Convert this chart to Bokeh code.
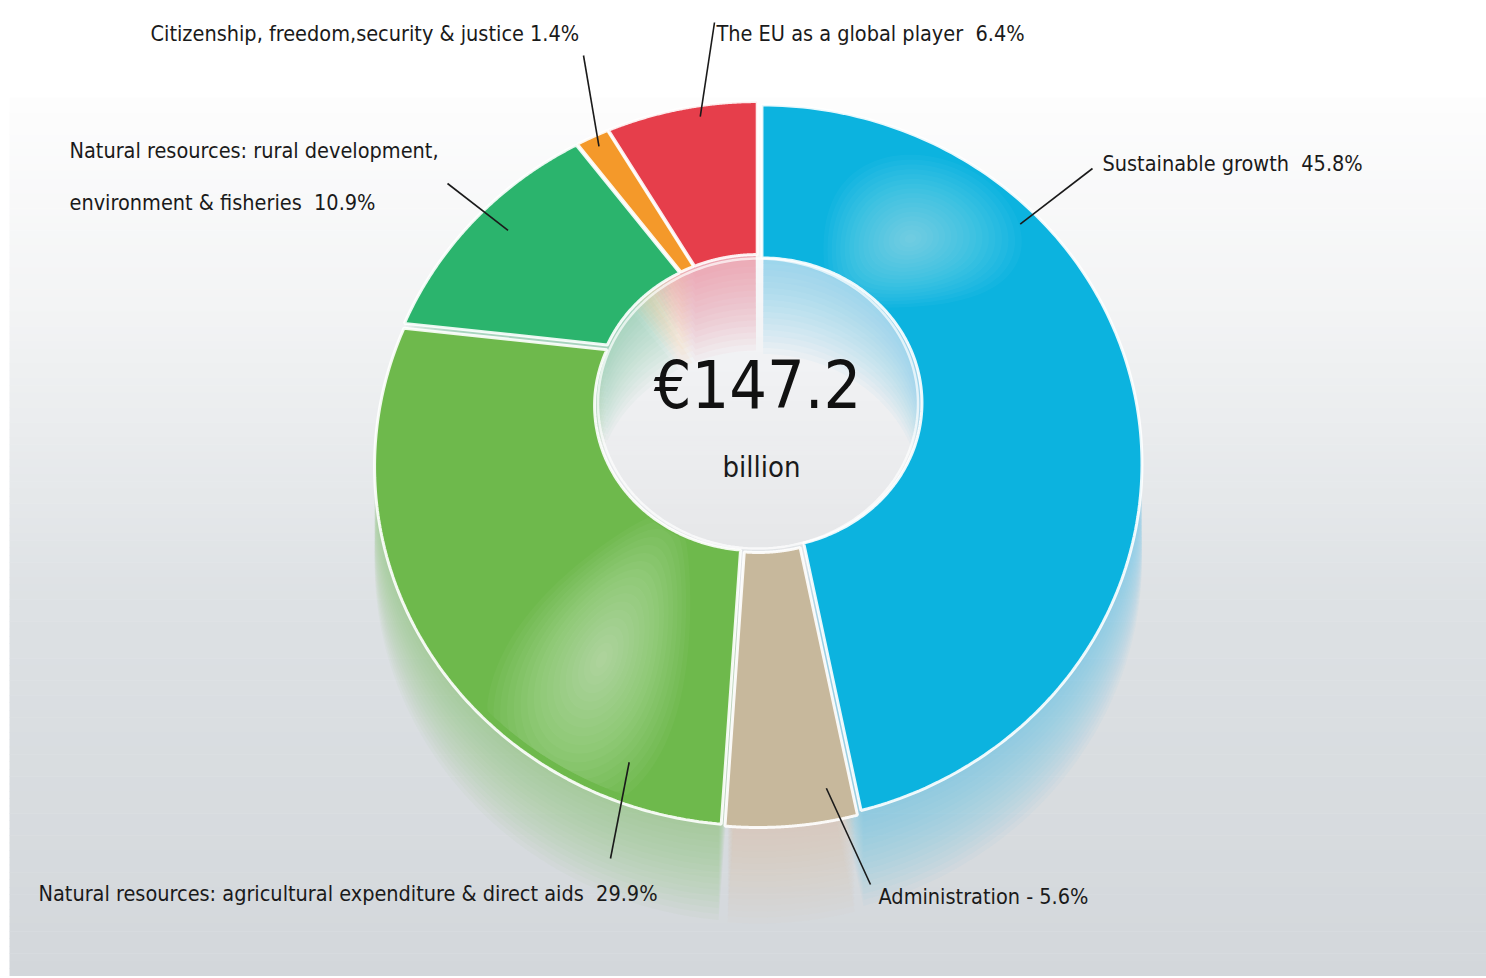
import numpy as np
from bokeh.plotting import figure
from bokeh.models import Range1d
from bokeh.core.properties import value
from bokeh.embed import file_html
from bokeh.resources import INLINE

# ---------------- data ----------------
categories = [
    "Sustainable growth",
    "Administration",
    "Natural resources: agricultural expenditure & direct aids",
    "Natural resources: rural development, environment & fisheries",
    "Citizenship, freedom, security & justice",
    "The EU as a global player",
]
shares = [45.8, 5.6, 29.9, 10.9, 1.4, 6.4]
NB = "\u00a0"
label_lines = [
    ["Sustainable growth" + NB + " 45.8%"],
    ["Administration - 5.6%"],
    ["Natural resources: agricultural expenditure & direct aids" + NB + " 29.9%"],
    ["Natural resources: rural development,", "environment & fisheries" + NB + " 10.9%"],
    ["Citizenship, freedom,security & justice 1.4%"],
    ["The EU as a global player" + NB + " 6.4%"],
]
total_text = "€147.2"
unit_text = "billion"

# ---------------- style / layout ----------------
slice_colors = ["#0cb3df", "#c7b89c", "#6eb94c", "#2bb46d", "#f4992a", "#e63e4b"]
tint_colors = ["#5cc8e8", "#cfc3ad", "#93ca7a", "#6cc896", "#f7b767", "#ee7f89"]
FONT = "DejaVu Sans Condensed, Liberation Sans, sans-serif"
LABEL_SIZE = "21.5px"
W, H = 1486, 978

# label anchor (left x, center y of first line) and leader line start
label_pos = [(1102, 163), (878, 896), (38, 893), (69, 150), (150, 33), (716, 33)]
leader_start = [(1092, 168), (870, 884), (610, 858), (447, 183), (583, 55), (714, 22)]
# where the leader hits the slice: (fraction along slice, radial fraction)
leader_hit = [(0.28, 0.9), (0.2, 0.88), (0.15, 0.85), (0.53, 0.82), (0.5, 0.93), (0.61, 0.93)]

CX = 757.5
IN_CY, IN_RX, IN_RY = 403.0, 160.0, 145.0
OUT_CY, OUT_RX, OUT_RY = 464.0, 380.0, 359.0
EXPLODE = 4.0


def ring_point(theta, t):
    th = np.radians(theta)
    rx = IN_RX + t * (OUT_RX - IN_RX)
    ry = IN_RY + t * (OUT_RY - IN_RY)
    cy = IN_CY + t * (OUT_CY - IN_CY)
    return CX + rx * np.sin(th), cy - ry * np.cos(th)


def sector(a0, a1, t0, t1, dx=0.0, dy=0.0, n=160):
    th = np.linspace(a0, a1, n)
    xo, yo = ring_point(th, t1)
    xi, yi = ring_point(th[::-1], t0)
    return list(np.concatenate([xo, xi]) + dx), list(np.concatenate([yo, yi]) + dy)


fr = np.array(shares) / np.sum(shares)
ends = np.cumsum(fr) * 360.0
starts = ends - fr * 360.0
mids = (starts + ends) / 2.0
offx = EXPLODE * np.sin(np.radians(mids))
offy = -EXPLODE * np.cos(np.radians(mids))

p = figure(width=W, height=H, output_backend="svg", toolbar_location=None,
           x_range=Range1d(0, W), y_range=Range1d(H, 0), min_border=0)
p.axis.visible = False
p.grid.visible = False
p.outline_line_color = None
p.background_fill_color = "white"
p.border_fill_color = "white"

# background gradient
stops_y = [97, 300, 600, 975]
stops_c = [(253, 253, 253), (243, 244, 245), (221, 225, 228), (211, 215, 219)]
ys = np.linspace(97, 975, 120)
cols = []
for y in ys[:-1]:
    c = [int(round(np.interp(y, stops_y, [s[k] for s in stops_c]))) for k in range(3)]
    cols.append("#%02x%02x%02x" % tuple(c))
p.quad(left=9, right=W, top=ys[:-1], bottom=ys[1:] + 0.5, fill_color=cols, line_color=None)

# hole (vertical gradient in strips)
hy = np.linspace(IN_CY - IN_RY, IN_CY + IN_RY, 60)
hl, hr, ht, hb, hc = [], [], [], [], []
for a, b in zip(hy[:-1], hy[1:]):
    m = (a + b) / 2
    w = IN_RX * np.sqrt(max(0.0, 1 - ((m - IN_CY) / IN_RY) ** 2))
    hl.append(CX - w); hr.append(CX + w); ht.append(a); hb.append(b + 0.5)
    f = (m - hy[0]) / (hy[-1] - hy[0])
    g = int(round(247 - 17 * f))
    hc.append("#%02x%02x%02x" % (g, g + 1, g + 3))
p.quad(left=hl, right=hr, top=ht, bottom=hb, fill_color=hc, line_color=None)

# reflections / inner wall tint
for i in range(len(shares)):
    for k in range(1, 17):
        xs, ys_ = sector(starts[i] + 0.4, ends[i] - 0.4, 0, 1, offx[i], offy[i] + 6 * k)
        p.patch(xs, ys_, fill_color=tint_colors[i], fill_alpha=0.05, line_color=None)

# main slices
for i in range(len(shares)):
    xs, ys_ = sector(starts[i], ends[i], 0, 1, offx[i], offy[i])
    p.patch(xs, ys_, fill_color=slice_colors[i], line_color="white", line_width=3, line_alpha=0.9)

# gloss highlights: smooth radial streaks in (angle, radius) space
gloss = [(0, 36.0, 0.42, 20.0, 0.55, 18, 0.03), (2, 213.0, 0.55, 18.0, 0.6, 18, 0.036)]
phi = np.linspace(0, 2 * np.pi, 120)
for i, cth, ct, hth, htt, nl, al in gloss:
    lo, hi = starts[i] + 1.0, ends[i] - 1.0
    for k in range(nl):
        s = 1 - k / nl
        thb = np.clip(cth + hth * s * np.cos(phi), lo, hi)
        tb = np.clip(ct + htt * s * np.sin(phi), 0.01, 0.97)
        bx, by = ring_point(thb, tb)
        p.patch(list(bx + offx[i]), list(by + offy[i]), fill_color="white", fill_alpha=al, line_color=None)

# hole rim
th = np.linspace(0, 360, 240)
rx_, ry_ = ring_point(th, 0)
p.line(list(rx_), list(ry_), line_color="white", line_width=2.5, line_alpha=0.7)

# leader lines
for i in range(len(shares)):
    f, t = leader_hit[i]
    ang = starts[i] + f * (ends[i] - starts[i])
    hx, hy_ = ring_point(ang, t)
    sx, sy = leader_start[i]
    p.line([sx, hx + offx[i]], [sy, hy_ + offy[i]], line_color="#1a1a1a", line_width=1.6)

# labels
tx, tyy, tt = [], [], []
for i, lines in enumerate(label_lines):
    x0, y0 = label_pos[i]
    for j, ln in enumerate(lines):
        tx.append(x0); tyy.append(y0 + 52 * j); tt.append(ln)
p.text(x=tx, y=tyy, text=tt, text_font=value(FONT), text_font_size=LABEL_SIZE,
       text_color="#1a1a1a", text_align="left", text_baseline="middle")

# center total
p.text(x=[757], y=[385], text=[total_text], text_font=value(FONT), text_font_size="66px",
       text_color="#111111", text_align="center", text_baseline="middle")
p.text(x=[761], y=[466], text=[unit_text], text_font=value(FONT), text_font_size="29px",
       text_color="#1a1a1a", text_align="center", text_baseline="middle")

open("out.html", "w").write(file_html(p, INLINE))
